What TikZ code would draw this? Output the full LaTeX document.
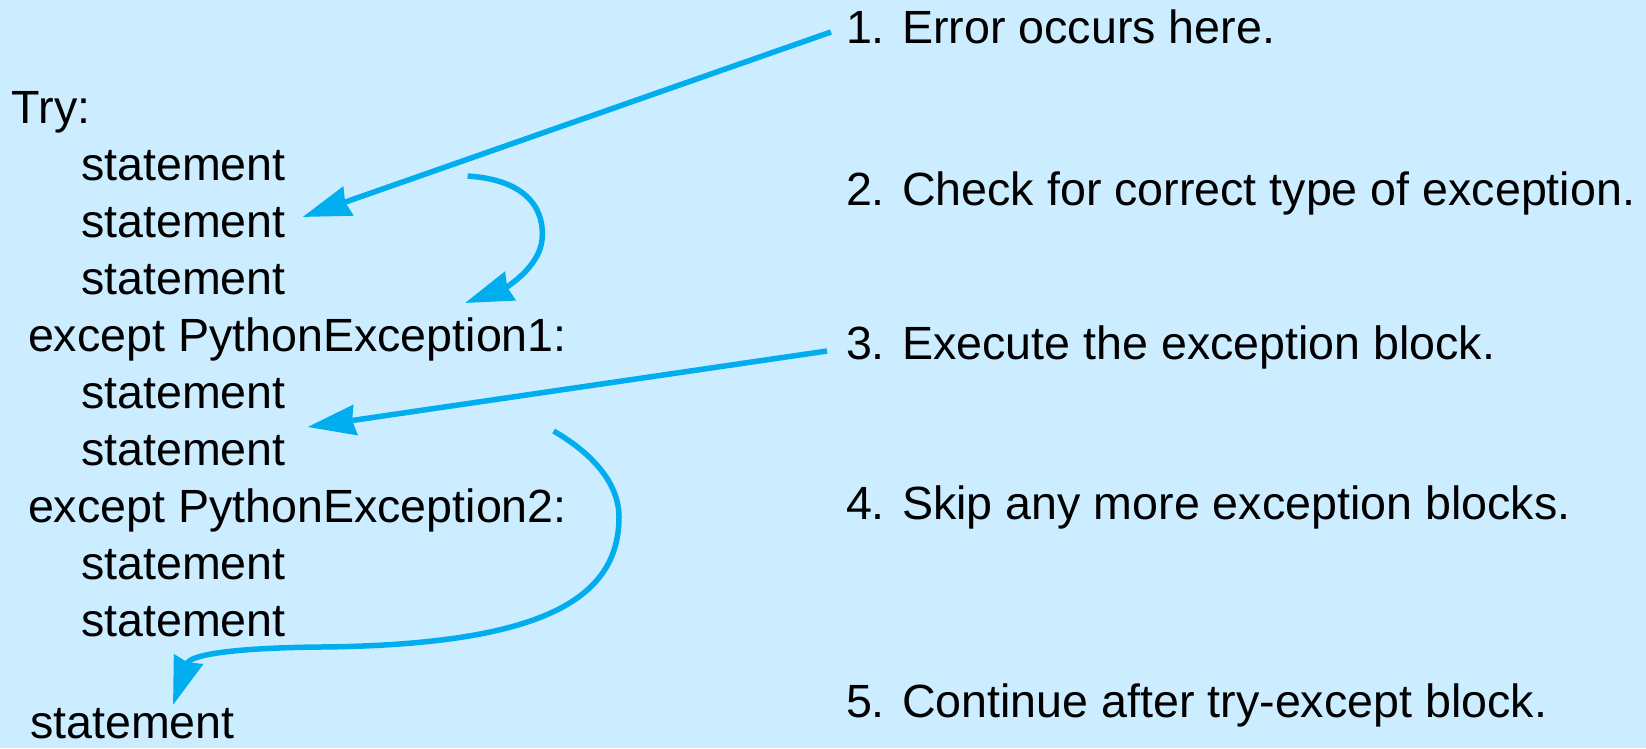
\documentclass[tikz,border=0pt]{standalone}
\usepackage{fontspec}
\setmainfont{Liberation Sans}
\usetikzlibrary{arrows.meta,calc}
\definecolor{bgblue}{RGB}{204,236,255}
\definecolor{arrblue}{RGB}{0,174,239}
\tikzset{
  txt/.style={anchor=base west,inner sep=0pt,outer sep=0pt,font=\fontsize{46.6}{55}\selectfont},
  arr/.style={draw=arrblue,line width=5.5pt,-{Stealth[length=48pt,width=30pt,inset=3pt]}},
}
\begin{document}
\begin{tikzpicture}[x=1pt,y=-1pt]
\fill[bgblue] (0,0) rectangle (1646,748);
\useasboundingbox (0,0) rectangle (1646,748);
% code lines
\node[txt] (try) at (12,123) {Try:};
\node[txt] (s1) at (81,180) {statement};
\node[txt] (s2) at (81,237) {statement};
\node[txt] (s3) at (81,294) {statement};
\node[txt] (e1) at (28,351) {except PythonException1:};
\node[txt] (s4) at (81,408) {statement};
\node[txt] (s5) at (81,465) {statement};
\node[txt] (e2) at (28,522) {except PythonException2:};
\node[txt] (s6) at (81,579) {statement};
\node[txt] (s7) at (81,636) {statement};
\node[txt] (s8) at (30,738) {statement};
% step labels
\node[txt] (l1) at (846,43) {1. Error occurs here.};
\node[txt] (l2) at (846,205) {2. Check for correct type of exception.};
\node[txt] (l3) at (846,359) {3. Execute the exception block.};
\node[txt] (l4) at (846,519) {4. Skip any more exception blocks.};
\node[txt] (l5) at (846,717) {5. Continue after try-except block.};
% connector ends
\coordinate (a1s) at ($(l1.base west)+(-15,-11)$);
\coordinate (a1e) at ($(s2.base east)+(17,-20)$);
\coordinate (a2s) at ($(s1.base east)+(182,-4)$);
\coordinate (a2e) at ($(e1.base west)+(437,-48)$);
\coordinate (a3s) at ($(l3.base west)+(-19,-8)$);
\coordinate (a3e) at ($(s5.base east)+(22,-38)$);
\coordinate (a4s) at ($(s5.base east)+(268,-34)$);
\coordinate (a4e) at ($(s8.base west)+(143,-33)$);
% connectors
\draw[arr] (a1s) -- (a1e);
\draw[arr] (a2s) .. controls (530,180) and (545,212) .. (542,240)
  .. controls (539,268) and (505,288) .. (a2e);
\draw[arr] (a3s) -- (a3e);
\draw[arr] (a4s) .. controls (595,455) and (619,485) .. (619,517)
  .. controls (619,600) and (540,645) .. (320,647)
  .. controls (230,648) and (190,655) .. (a4e);
\end{tikzpicture}
\end{document}
